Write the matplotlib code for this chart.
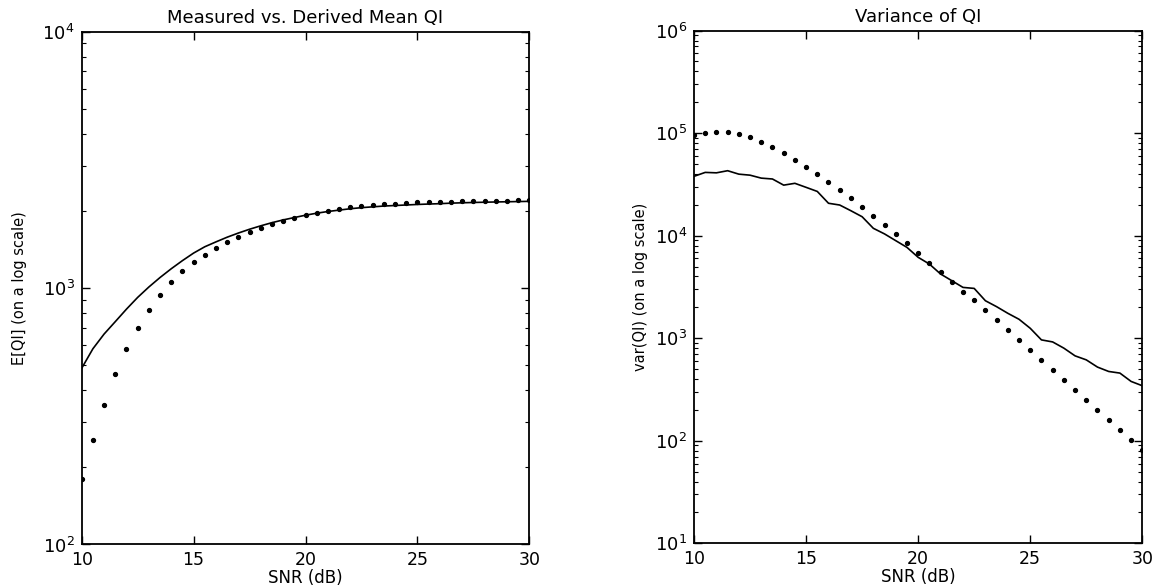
import matplotlib
matplotlib.use("Agg")
import matplotlib.pyplot as plt
from matplotlib.ticker import LogLocator, NullFormatter, MultipleLocator

# SNR grid (dB), 0.5 dB steps
snr = [10 + 0.5 * i for i in range(41)]

# left panel: mean QI
mean_measured = [487, 580, 662, 740, 828, 920, 1010, 1100, 1190, 1280,
                 1370, 1450, 1515, 1580, 1640, 1697, 1750, 1800, 1845, 1885,
                 1925, 1960, 1990, 2015, 2040, 2060, 2075, 2090, 2100, 2110,
                 2120, 2128, 2135, 2145, 2152, 2158, 2163, 2168, 2172, 2176,
                 2180]
mean_derived = [180, 255, 351, 462, 580, 701, 824, 942, 1052, 1161,
                1262, 1352, 1440, 1513, 1589, 1656, 1722, 1779, 1834, 1883,
                1928, 1968, 2003, 2040, 2065, 2090, 2110, 2125, 2137, 2149,
                2158, 2163, 2168, 2173, 2178, 2183, 2188, 2190, 2195, 2200,
                2206]

# right panel: variance of QI
var_measured = [37900, 41400, 41000, 43000, 39800, 38900, 36400, 35700, 31100, 32400,
                29600, 27000, 20700, 19900, 17500, 15300, 11800, 10400, 8940, 7690,
                6150, 5290, 4230, 3640, 3130, 3060, 2320, 2030, 1750, 1530,
                1250, 963, 920, 800, 673, 615, 523, 474, 457, 379,
                344]
var_derived = [95600, 99300, 102300, 103200, 97800, 90800, 81200, 72600, 63800, 55000,
               47000, 39600, 33100, 27800, 23100, 18900, 15500, 12800, 10400, 8480,
               6770, 5450, 4390, 3560, 2850, 2340, 1880, 1510, 1200, 956,
               764, 615, 489, 391, 310, 248, 198, 158, 127, 101,
               81]

plt.rcParams['font.family'] = ['DejaVu Sans']

fig = plt.figure(figsize=(11.59, 5.88), dpi=100)
ax1 = fig.add_axes([0.0705, 0.074, 0.3862, 0.872])
ax2 = fig.add_axes([0.5988, 0.076, 0.3868, 0.872])

panels = [
    (ax1, mean_measured, mean_derived, (1e2, 1e4),
     'Measured vs. Derived Mean QI', 'E[QI] (on a log scale)', 11),
    (ax2, var_measured, var_derived, (1e1, 1e6),
     'Variance of QI', 'var(QI) (on a log scale)', 5),
]

for ax, solid, dots, ylim, title, ylabel, ypad in panels:
    ax.plot(snr, solid, color='black', linewidth=1.2)
    ax.plot(snr, dots, linestyle='none', marker='o', markersize=2.8,
            color='black')
    ax.set_yscale('log')
    ax.set_xlim(10, 30)
    ax.set_ylim(*ylim)
    ax.xaxis.set_major_locator(MultipleLocator(5))
    ax.yaxis.set_major_locator(LogLocator(base=10))
    ax.yaxis.set_minor_locator(LogLocator(base=10, subs=range(2, 10)))
    ax.yaxis.set_minor_formatter(NullFormatter())
    ax.tick_params(which='both', direction='in', top=True, right=True,
                   labelsize=13)
    ax.tick_params(axis='y', pad=5)
    ax.tick_params(axis='x', pad=5, labelsize=12.5)
    ax.tick_params(which='major', length=6, width=1)
    ax.tick_params(which='minor', length=3, width=0.8)
    for sp in ax.spines.values():
        sp.set_linewidth(1.3)
    ax.set_title(title, fontsize=13, pad=6)
    ax.set_xlabel('SNR (dB)', fontsize=12, labelpad=0)
    ax.set_ylabel(ylabel, fontsize=10.5, labelpad=ypad,
                  family=['Liberation Sans Narrow', 'DejaVu Sans'])

fig.savefig('out.png', dpi=100)
